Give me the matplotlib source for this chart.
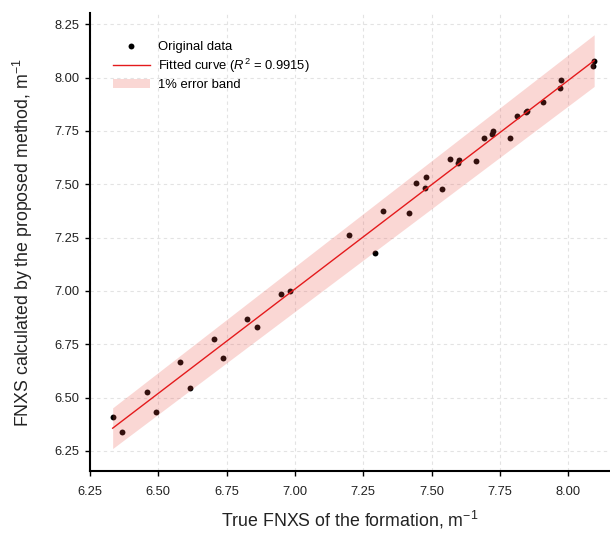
import numpy as np
import matplotlib
matplotlib.use("Agg")
import matplotlib.pyplot as plt
from matplotlib.ticker import FormatStrFormatter

plt.rcParams['font.family'] = ['Liberation Sans', 'DejaVu Sans']
plt.rcParams['mathtext.fontset'] = 'custom'
plt.rcParams['mathtext.rm'] = 'Liberation Sans'
plt.rcParams['mathtext.it'] = 'Liberation Sans:italic'

# 数据
true_fnxs = [6.333, 6.367, 6.457, 6.491, 6.579, 6.615, 6.704, 6.737, 6.826, 6.861,
             6.949, 6.983, 7.198, 7.293, 7.321, 7.416, 7.444, 7.478, 7.475, 7.539,
             7.567, 7.601, 7.598, 7.662, 7.691, 7.722, 7.726, 7.786, 7.813, 7.845,
             7.850, 7.909, 7.969, 7.972, 8.090, 8.095]
calc_fnxs = [6.409, 6.339, 6.526, 6.434, 6.666, 6.545, 6.776, 6.687, 6.870, 6.833,
             6.984, 7.001, 7.263, 7.177, 7.376, 7.367, 7.506, 7.533, 7.484, 7.477,
             7.619, 7.614, 7.599, 7.608, 7.716, 7.736, 7.750, 7.717, 7.819, 7.841,
             7.844, 7.885, 7.952, 7.989, 8.055, 8.080]

# 拟合直线参数
fit_slope = 0.978
fit_intercept = 0.163
r2 = 0.9915
band_frac = 0.015

xticks = [6.25, 6.50, 6.75, 7.00, 7.25, 7.50, 7.75, 8.00]
yticks = [6.25, 6.50, 6.75, 7.00, 7.25, 7.50, 7.75, 8.00, 8.25]

fig = plt.figure(figsize=(6.10, 5.33), dpi=100)
ax = fig.add_axes([0.1475, 0.1163, 0.8525, 0.8593])

xs = np.array(true_fnxs)
xline = np.linspace(xs.min(), xs.max(), 100)
yline = fit_slope * xline + fit_intercept

ax.scatter(true_fnxs, calc_fnxs, s=18, color='black', zorder=2, label='Original data',
           linewidths=0)
ax.fill_between(xline, yline * (1 - band_frac), yline * (1 + band_frac),
                color='#ea4a3f', alpha=0.22, linewidth=0, zorder=3, label='1% error band')
ax.plot(xline, yline, color='#e41a1c', lw=1.0, zorder=4,
        label=r'Fitted curve ($R^2$ = %.4f)' % r2)

ax.set_xlim(6.25, 8.153)
ax.set_ylim(6.156, 8.303)
ax.set_xticks(xticks)
ax.set_yticks(yticks)
ax.xaxis.set_major_formatter(FormatStrFormatter('%.2f'))
ax.yaxis.set_major_formatter(FormatStrFormatter('%.2f'))
ax.tick_params(labelsize=9.3, length=3.5, width=1, colors='black', labelcolor='#222222')
ax.tick_params(axis='x', pad=7)
ax.tick_params(axis='y', pad=4)

ax.grid(True, linestyle=(0, (3, 3)), color='#e3e3e3', lw=0.8, zorder=0)
ax.set_axisbelow(True)
for s in ['top', 'right']:
    ax.spines[s].set_visible(False)
for s in ['left', 'bottom']:
    ax.spines[s].set_linewidth(1.5)

ax.set_xlabel(r'True FNXS of the formation, m$^{-1}$', fontsize=12.8, labelpad=8, color='#222222')
ax.set_ylabel(r'FNXS calculated by the proposed method, m$^{-1}$', fontsize=12.8, labelpad=14,
              color='#222222')

handles, labels = ax.get_legend_handles_labels()
order = [labels.index('Original data'),
         [i for i, l in enumerate(labels) if l.startswith('Fitted')][0],
         labels.index('1% error band')]
ax.legend([handles[i] for i in order], [labels[i] for i in order],
          loc='upper left', bbox_to_anchor=(0.022, 0.965), frameon=False, fontsize=9.4,
          handlelength=2.8, handletextpad=0.6, labelspacing=0.3)

fig.savefig('out.png', dpi=100)
